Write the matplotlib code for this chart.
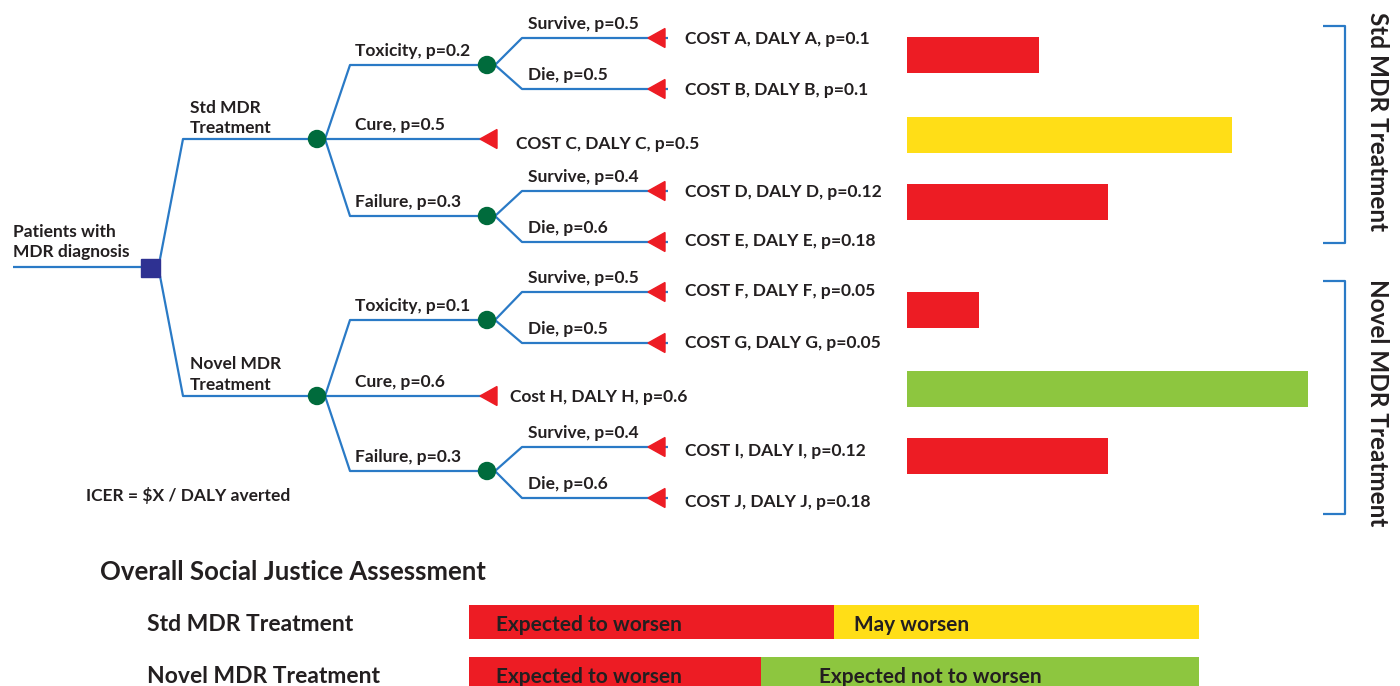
#!/usr/bin/env python3
"""
Decision tree for MDR treatment with outcome bars and social justice assessment.
"""
import matplotlib
matplotlib.use("Agg")
import matplotlib.pyplot as plt
from matplotlib.patches import Circle, Polygon, Rectangle

W, H = 1400, 686

# Colours
BLUE = "#2a7ac6"
NODE_GREEN = "#006b3c"
NAVY = "#2e3192"
RED = "#ed1c24"
YELLOW = "#ffde17"
GREEN = "#8dc63f"
INK = "#231f20"

# ---- data ----
root_label = ["Patients with", "MDR diagnosis"]
arm_labels = [["Std MDR", "Treatment"], ["Novel MDR", "Treatment"]]
first_labels = [
    ["Toxicity, p=0.2", "Cure, p=0.5", "Failure, p=0.3"],
    ["Toxicity, p=0.1", "Cure, p=0.6", "Failure, p=0.3"],
]
second_labels = [
    ["Survive, p=0.5", "Die, p=0.5"],
    ["Survive, p=0.4", "Die, p=0.6"],
    ["Survive, p=0.5", "Die, p=0.5"],
    ["Survive, p=0.4", "Die, p=0.6"],
]
outcome_labels = [
    "COST A, DALY A, p=0.1", "COST B, DALY B, p=0.1",
    "COST C, DALY C, p=0.5",
    "COST D, DALY D, p=0.12", "COST E, DALY E, p=0.18",
    "COST F, DALY F, p=0.05", "COST G, DALY G, p=0.05",
    "Cost H, DALY H, p=0.6",
    "COST I, DALY I, p=0.12", "COST J, DALY J, p=0.18",
]
icer_text = "ICER = \\$X / DALY averted"
score_values = [3.3, 8.1, 5.0, 1.8, 10.0, 5.0]
score_colors = [RED, YELLOW, RED, RED, GREEN, RED]
group_labels = ["Std MDR Treatment", "Novel MDR Treatment"]
sj_title = "Overall Social Justice Assessment"
sj_rows = ["Std MDR Treatment", "Novel MDR Treatment"]
sj_shares = [[0.5, 0.5], [0.4, 0.6]]
sj_texts = [["Expected to worsen", "May worsen"],
            ["Expected to worsen", "Expected not to worsen"]]
sj_colors = [[RED, YELLOW], [RED, GREEN]]

# ---- layout (pixels) ----
root_y = 267
arm_y = [139, 396]
first_y = [[65, 139, 216], [320, 396, 471]]
second_y = [[38, 89], [191, 242], [292, 343], [447, 498]]
outcome_dy = [6, 6, 10, 6, 4, 4, 5, 6, 9, 9]
cure_text_x = [516, 510]
score_y = [55, 135, 202, 310, 389, 456]
brackets = [(26, 243), (281, 514)]
group_label_y = [122, 403]
sj_y = [622, 674]
sj_text_off = [[27, 20], [27, 58]]

plt.rcParams["font.family"] = ["Lato", "DejaVu Sans"]

fig = plt.figure(figsize=(W / 100, H / 100), dpi=100)
ax = fig.add_axes([0, 0, 1, 1])
ax.set_xlim(0, W)
ax.set_ylim(H, 0)
ax.axis("off")

LW = 1.6
FS = 12.5


def line(xs, ys):
    ax.plot(xs, ys, color=BLUE, lw=LW, solid_capstyle="butt", zorder=1)


def chance(x, y):
    ax.add_patch(Circle((x, y), 8.5, color=NODE_GREEN, zorder=3))


def terminal(x_tip, y, length=17, half=9.5):
    ax.add_patch(Polygon([(x_tip, y), (x_tip + length, y - half), (x_tip + length, y + half)],
                         closed=True, color=RED, zorder=3))


def label(x, y, s, **kw):
    ax.text(x, y, s, fontsize=kw.pop("fontsize", FS), fontweight="bold",
            color=INK, va=kw.pop("va", "baseline"), ha=kw.pop("ha", "left"), **kw)


# root
line([13, 150], [root_y, root_y])
ax.add_patch(Rectangle((141, root_y - 8), 19, 18, color=NAVY, zorder=3))
label(13, 237, root_label[0])
label(13, 257, root_label[1])

out_i = 0
sec_i = 0
for a in range(2):
    ay = arm_y[a]
    start_y = root_y - 8 if a == 0 else root_y + 9
    line([160, 183, 317], [start_y, ay, ay])
    chance(317, ay)
    label(190, ay - 26 if a == 0 else ay - 27, arm_labels[a][0])
    label(190, ay - 6, arm_labels[a][1])

    for b in range(3):
        fy = first_y[a][b]
        label(355, fy - 9, first_labels[a][b])
        if b == 1:
            line([325, 350, 482], [ay, fy, fy])
            terminal(480, fy)
            label(cure_text_x[a], fy + outcome_dy[out_i], outcome_labels[out_i])
            out_i += 1
            continue
        line([325, 350, 487], [ay, fy, fy])
        chance(487, fy)
        for c in range(2):
            sy = second_y[sec_i][c]
            line([495, 522, 668], [fy, sy, sy])
            terminal(648, sy)
            label(528, sy - 9, second_labels[sec_i][c])
            label(685, sy + outcome_dy[out_i], outcome_labels[out_i])
            out_i += 1
        sec_i += 1

label(86, 501, icer_text)

# outcome bars
ax_s = fig.add_axes([907 / W, 0, 401 / W, 1])
ax_s.set_xlim(0, 10)
ax_s.set_ylim(H, 0)
ax_s.axis("off")
ax_s.patch.set_alpha(0)
ax_s.barh(score_y, score_values, height=36, color=score_colors)

# brackets
for (y0, y1), gy, g in zip(brackets, group_label_y, group_labels):
    line([1323, 1345, 1345, 1323], [y0, y0, y1, y1])
    label(1377, gy, g, fontsize=17.5, rotation=-90, ha="center", va="center")

# social justice assessment
label(100, 580, sj_title, fontsize=18.5)
ax_j = fig.add_axes([469 / W, 0, 730 / W, 1])
ax_j.set_xlim(0, 1)
ax_j.set_ylim(H, 0)
ax_j.axis("off")
ax_j.patch.set_alpha(0)
for r in range(2):
    label(147, sj_y[r] + 9, sj_rows[r], fontsize=16.5)
    left = 0
    for k in range(2):
        ax_j.barh(sj_y[r], sj_shares[r][k], left=left, height=34, color=sj_colors[r][k])
        ax_j.text(left + sj_text_off[r][k] / 730, sj_y[r] + 9, sj_texts[r][k],
                  fontsize=15, fontweight="bold", color=INK, va="baseline")
        left += sj_shares[r][k]

fig.savefig("out.png", dpi=100)
